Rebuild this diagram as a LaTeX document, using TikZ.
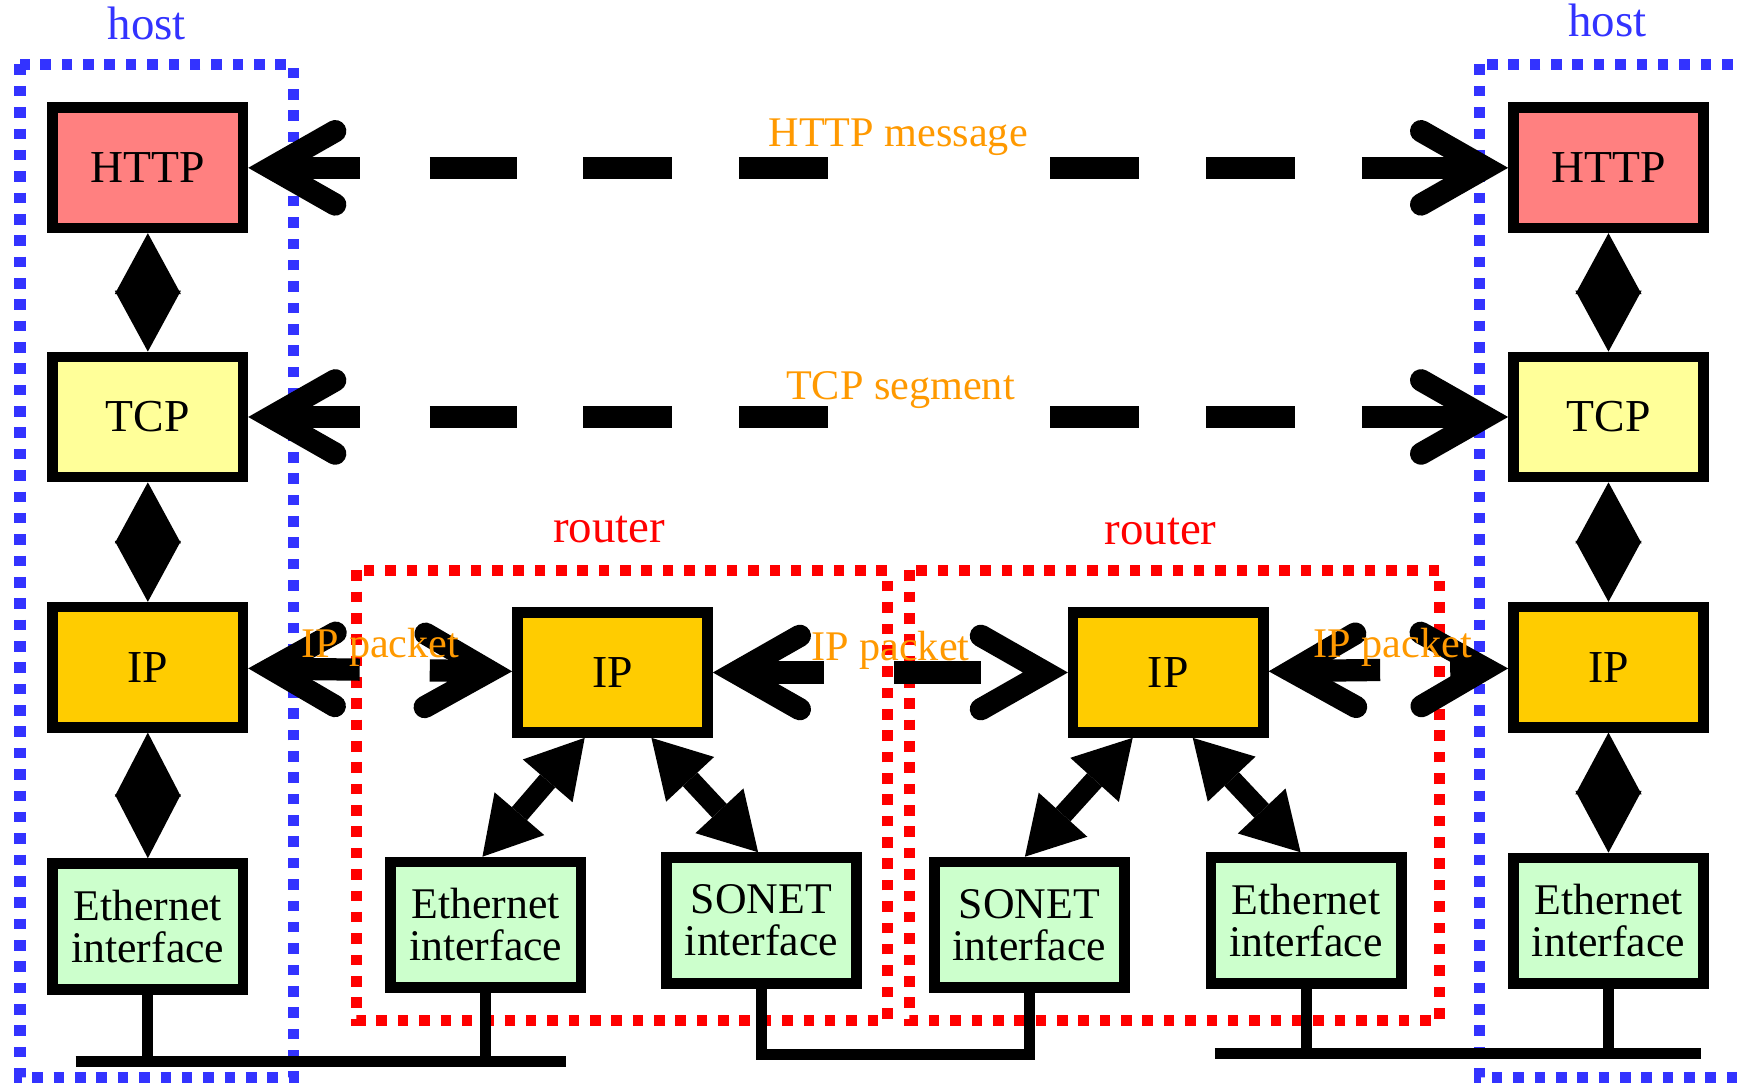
\documentclass[tikz,border=0pt]{standalone}
\usepackage{fontspec}
\setmainfont{Liberation Serif}
\usepackage{tikz}
\usetikzlibrary{
  arrows.meta,
  positioning
}
\definecolor{httpred}{RGB}{255,128,128}
\definecolor{tcpyellow}{RGB}{255,255,153}
\definecolor{ipgold}{RGB}{255,204,0}
\definecolor{ifgreen}{RGB}{204,255,204}
\definecolor{hostblue}{RGB}{51,51,255}
\definecolor{pktorange}{RGB}{255,153,0}
\tikzset{
  layer/.style={draw, line width=0.095cm, minimum width=1.71cm, minimum height=1.08cm,
    inner sep=0pt, font=\fontsize{11.7}{12}\selectfont},
  iface/.style={layer, fill=ifgreen, minimum height=1.13cm, align=center,
    font=\fontsize{11.2}{10.8}\selectfont},
  hostbox/.style={draw=hostblue, line width=0.1cm, dash pattern=on 0.095cm off 0.097cm},
  routerbox/.style={hostbox, draw=red},
  barb/.tip={Straight Barb[length=0.58cm, width=0.66cm, line cap=round, line join=miter]},
  peer/.style={line width=0.2cm, barb-barb,
    dash pattern=on 0.7cm off 0.63cm on 0.78cm off 0.6cm on 0.8cm off 0.6cm on 0.8cm
      off 2cm on 0.8cm off 0.6cm on 0.8cm off 0.6cm on 3cm},
  stack/.style={line width=0.02cm,
    {Triangle[length=#1, width=0.59cm]}-{Triangle[length=#1, width=0.59cm]}},
  stack/.default=0.548cm,
  fanout/.style={line width=0.18cm,
    {Triangle[length=0.51cm, width=0.59cm, line width=0pt 0 0]}-{Triangle[length=0.51cm, width=0.59cm, line width=0pt 0 0]}},
  bus/.style={line width=0.1cm},
  pdu/.style={text=pktorange, anchor=base, font=\fontsize{10.8}{12}\selectfont},
  tag/.style={anchor=base, font=\fontsize{12}{14}\selectfont},
  node distance=2.25cm
}

\begin{document}
\begin{tikzpicture}[x=0.01cm, y=-0.01cm]
  \useasboundingbox (0,0) rectangle (1568,977);

  % hosts and routers
  \draw[hostbox] (18,58) rectangle (264,969);
  \draw[hostbox] (1331,58) rectangle (1600,969);
  \draw[routerbox] (321,513) rectangle (798,918);
  \draw[routerbox] (818,513) rectangle (1295,918);
  \node[tag, text=hostblue] (lhost) at (132,36) {host};
  \node[tag, text=hostblue] (rhost) at (1446,33) {host};
  \node[tag, text=red] (arouter) at (548,488) {router};
  \node[tag, text=red] (brouter) at (1044,490) {router};

  % left host
  \node[layer, fill=httpred] (lhttp) at (133,151) {HTTP};
  \node[layer, fill=tcpyellow, below of=lhttp, node distance=2.24cm] (ltcp) {TCP};
  \node[layer, fill=ipgold, below of=ltcp] (lip) {IP};
  \node[iface, below of=lip, node distance=2.33cm] (leth) {Ethernet\\interface};

  % right host
  \node[layer, fill=httpred] (rhttp) at (1447,151) {HTTP};
  \node[layer, fill=tcpyellow, below of=rhttp, node distance=2.24cm] (rtcp) {TCP};
  \node[layer, fill=ipgold, below of=rtcp] (rip) {IP};
  \node[iface, below of=rip, node distance=2.28cm] (reth) {Ethernet\\interface};

  % routers
  \node[layer, fill=ipgold] (aip) at (551,605) {IP};
  \node[iface] (aeth) at (437,832) {Ethernet\\interface};
  \node[iface] (ason) at (685,828) {SONET\\interface};
  \node[layer, fill=ipgold] (bip) at (1051,605) {IP};
  \node[iface] (bson) at (926,832) {SONET\\interface};
  \node[iface] (beth) at (1175,828) {Ethernet\\interface};

  % layer links
  \draw[stack] (lhttp) -- (ltcp);
  \draw[stack] (ltcp) -- (lip);
  \draw[stack=0.575cm] (lip) -- (leth);
  \draw[stack] (rhttp) -- (rtcp);
  \draw[stack] (rtcp) -- (rip);
  \draw[stack=0.555cm] (rip) -- (reth);
  \draw[fanout] ([xshift=-0.25cm]aip.south) -- ([xshift=-0.03cm]aeth.north);
  \draw[fanout] ([xshift=0.35cm]aip.south) -- ([xshift=-0.03cm]ason.north);
  \draw[fanout] ([xshift=-0.32cm]bip.south) -- ([xshift=-0.04cm]bson.north);
  \draw[fanout] ([xshift=0.22cm]bip.south) -- ([xshift=-0.05cm]beth.north);

  % peer to peer
  \draw[peer] (lhttp) -- node[pdu, xshift=0.18cm, yshift=0.19cm] (httpmsg) {HTTP message} (rhttp);
  \draw[peer] (ltcp) -- node[pdu, xshift=0.2cm, yshift=0.16cm] (tcpseg) {TCP segment} (rtcp);
  \draw[peer] (lip) -- node[pdu, yshift=0.11cm] (pkta) {IP packet} (aip);
  \draw[peer] (aip) -- node[pdu, yshift=0.11cm] (pktb) {IP packet} (bip);
  \draw[peer] (bip) -- node[pdu, xshift=0.04cm, yshift=0.11cm] (pktc) {IP packet} (rip);

  % links
  \coordinate (lbusw) at (68,955);
  \coordinate (lbuse) at (509,955);
  \coordinate (sonetlow) at (0,949);
  \coordinate (rbusw) at (1093,948);
  \coordinate (rbuse) at (1530,948);
  \draw[bus] (lbusw) -- (lbuse);
  \draw[bus] (leth.south) -- (leth.south |- lbusw);
  \draw[bus] (aeth.south) -- (aeth.south |- lbusw);
  \draw[bus] (ason.south) -- (ason.south |- sonetlow) -| (bson.south);
  \draw[bus] (rbusw) -- (rbuse);
  \draw[bus] (beth.south) -- (beth.south |- rbusw);
  \draw[bus] (reth.south) -- (reth.south |- rbusw);
\end{tikzpicture}
\end{document}
